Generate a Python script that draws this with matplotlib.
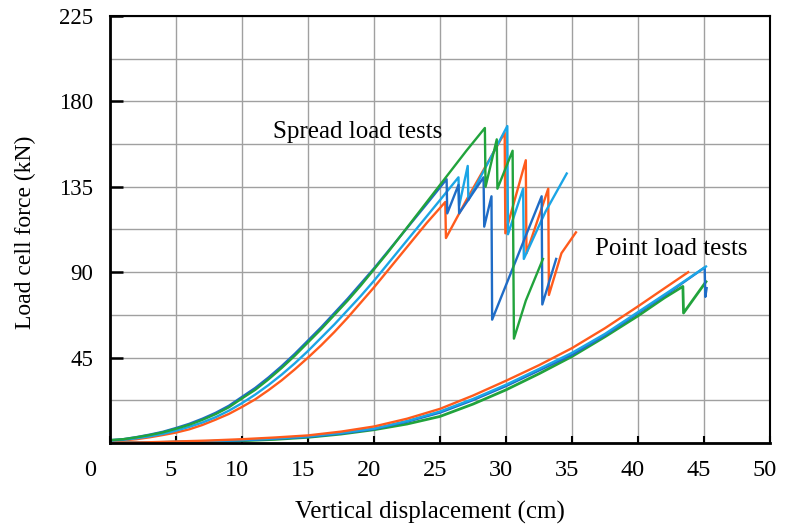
import matplotlib
matplotlib.use("Agg")
import matplotlib.pyplot as plt
import matplotlib.transforms as mtransforms
import numpy as np

# ---- data ----
# Spread load tests
spread_green_x = [0, 1, 2, 3, 4, 5, 6, 7, 8, 9, 10, 11, 12, 13, 14, 15, 16, 17, 18,
                  19, 20, 21, 22, 23, 24, 25, 26, 27, 28.4,
                  28.45, 29.3, 29.35, 30.5, 30.6, 31.5, 32.8]
spread_green_y = [1.5, 2, 3, 4.2, 5.6, 7.5, 9.6, 12.2, 15.2, 18.8, 23.5, 28, 33.5, 39.5,
                  46, 53, 60, 67.5, 75, 83, 91.5, 100, 109, 118, 127, 136, 145, 154, 166,
                  135, 160, 134, 154, 55, 75, 97]

spread_dblue_x = [0, 1, 2, 3, 4, 5, 6, 7, 8, 9, 10, 11, 12, 13, 14, 15, 16, 17, 18,
                  19, 20, 21, 22, 23, 24, 25.5,
                  25.55, 26.4, 26.45, 28.3, 28.35, 28.9, 28.95, 32.7, 32.75, 33.8]
spread_dblue_y = [1.5, 2, 3.1, 4.4, 5.9, 7.9, 10.1, 12.8, 15.9, 19.6, 24.3, 29, 34.5,
                  40.5, 47, 54, 61, 68.5, 76, 84, 92, 100.5, 109, 117.5, 126, 139,
                  121, 136, 121, 140, 114, 130, 65, 130, 73, 97]

spread_lblue_x = [0, 1, 2, 3, 4, 5, 6, 7, 8, 9, 10, 11, 12, 13, 14, 15, 16, 17, 18,
                  19, 20, 21, 22, 23, 24, 25, 26.4,
                  26.45, 27.1, 27.15, 30.1, 30.15, 31.3, 31.35, 33, 34.6]
spread_lblue_y = [1.2, 1.7, 2.5, 3.5, 4.8, 6.5, 8.5, 10.8, 13.6, 17, 21, 25.5, 30.5, 36,
                  42, 48.5, 55.5, 62.5, 70, 77.5, 85.5, 94, 102.5, 111, 119.5, 128, 140,
                  125, 146, 128, 167, 110, 134, 97, 122, 142]

spread_orange_x = [0, 1, 2, 3, 4, 5, 6, 7, 8, 9, 10, 11, 12, 13, 14, 15, 16, 17, 18,
                   19, 20, 21, 22, 23, 24, 25.4,
                   25.45, 27, 29.9, 29.95, 31.5, 31.55, 33.2, 33.25, 34.2, 35.3]
spread_orange_y = [1.0, 1.4, 2, 3, 4.2, 5.5, 7.2, 9.5, 12.3, 15.3, 19, 23, 27.8, 33,
                   38.8, 45, 51.5, 58.5, 66, 74, 82, 90.5, 99, 107.5, 116, 127,
                   108, 128, 163.5, 110.5, 149, 100, 134, 78, 100, 111]

# Point load tests
point_orange_x = [0, 2.5, 5, 7.5, 10, 12.5, 15, 17.5, 20, 22.5, 25, 27.5, 30, 32.5,
                  35, 37.5, 40, 42, 43.8]
point_orange_y = [0, 0.3, 0.8, 1.3, 2.0, 2.9, 4.0, 6.0, 8.7, 12.8, 18, 25, 32.8, 41,
                  50, 60.5, 72, 81.5, 90]

point_lblue_x = [0, 2.5, 5, 7.5, 10, 12.5, 15, 17.5, 20, 22.5, 25, 27.5, 30, 32.5,
                 35, 37.5, 40, 42.5, 45.15]
point_lblue_y = [0, 0.25, 0.6, 1.0, 1.6, 2.4, 3.5, 5.3, 7.6, 11.6, 16.6, 23.2, 30.7, 39,
                 47.5, 57.5, 69, 80.5, 93]

point_dblue_x = [0, 2.5, 5, 7.5, 10, 12.5, 15, 17.5, 20, 22.5, 25, 27.5, 30, 32.5,
                 35, 37.5, 40, 42.5, 45.05, 45.1, 45.2]
point_dblue_y = [0, 0.2, 0.5, 0.9, 1.4, 2.2, 3.2, 5.0, 7.3, 11.2, 16, 22.6, 30, 38.2,
                 46.5, 56.8, 68.5, 80, 92.5, 77, 81.6]

point_green_x = [0, 2.5, 5, 7.5, 10, 12.5, 15, 17.5, 20, 22.5, 25, 27.5, 30, 32.5,
                 35, 37.5, 40, 42, 43.4, 43.45, 45.15]
point_green_y = [0, 0.15, 0.4, 0.8, 1.2, 1.9, 3.0, 4.7, 7.0, 10, 14, 20.5, 28, 36.5,
                 45.6, 56, 67, 76.5, 82.5, 68.5, 85]

x_ticks = [0, 5, 10, 15, 20, 25, 30, 35, 40, 45, 50]
y_ticks = [45, 90, 135, 180, 225]

# ---- styling ----
GREEN = "#21a33c"
DBLUE = "#1f6cc6"
LBLUE = "#1ba5e6"
ORANGE = "#ff5b1c"

plt.rcParams["font.family"] = ["Liberation Serif", "DejaVu Serif"]

fig = plt.figure(figsize=(7.87, 5.27), dpi=100)
ax = fig.add_axes([110 / 787, 1 - 443 / 527, 660 / 787, (443 - 16) / 527])

lw = 1.7
ax.plot(point_green_x, point_green_y, color=GREEN, lw=lw + 0.3)
ax.plot(point_dblue_x, point_dblue_y, color=DBLUE, lw=lw)
ax.plot(point_lblue_x, point_lblue_y, color=LBLUE, lw=lw)
ax.plot(point_orange_x, point_orange_y, color=ORANGE, lw=lw)

ax.plot(spread_orange_x, spread_orange_y, color=ORANGE, lw=lw)
ax.plot(spread_lblue_x, spread_lblue_y, color=LBLUE, lw=lw)
ax.plot(spread_dblue_x, spread_dblue_y, color=DBLUE, lw=lw)
ax.plot(spread_green_x, spread_green_y, color=GREEN, lw=lw)

ax.set_xlim(0, 50)
ax.set_ylim(0, 225)

ax.set_xticks(x_ticks)
ax.set_xticklabels([str(v) for v in x_ticks])
ax.set_yticks(y_ticks)
ax.set_yticklabels([str(v) for v in y_ticks])
ax.set_yticks(np.arange(0, 226, 22.5), minor=True)

ax.grid(True, which="major", axis="x", color="#a0a0a0", lw=1.0)
ax.grid(True, which="both", axis="y", color="#a0a0a0", lw=1.0)
ax.set_axisbelow(True)

ax.tick_params(axis="x", which="major", direction="in", length=5, width=1.5,
               labelsize=17.5, pad=12, colors="black")
ax.tick_params(axis="y", which="major", direction="in", length=9, width=1.8,
               labelsize=16.5, pad=12, colors="black")
ax.tick_params(axis="y", which="minor", length=0)

for side in ["left", "bottom"]:
    ax.spines[side].set_linewidth(2.0)
for side in ["top", "right"]:
    ax.spines[side].set_linewidth(1.5)

# shift x tick labels slightly left as in the reference
for i, lab in enumerate(ax.get_xticklabels()):
    dx = -20 if i == 0 else -5
    lab.set_transform(lab.get_transform() +
                      mtransforms.ScaledTranslation(dx / 100, 0, fig.dpi_scale_trans))

ax.set_xlabel("Vertical displacement (cm)", fontsize=18)
ax.xaxis.set_label_coords((430 - 110) / 660, -(512 - 443) / 427)
ax.xaxis.label.set_va("center")
ax.set_ylabel("Load cell force (kN)", fontsize=17)
ax.yaxis.set_label_coords(-(110 - 25) / 660, (443 - 232) / 427)
ax.yaxis.label.set_va("center")

ax.text(18.75, 164, "Spread load tests", fontsize=18, ha="center", va="center")
ax.text(42.5, 102, "Point load tests", fontsize=18, ha="center", va="center")

fig.savefig("out.png", dpi=100)
